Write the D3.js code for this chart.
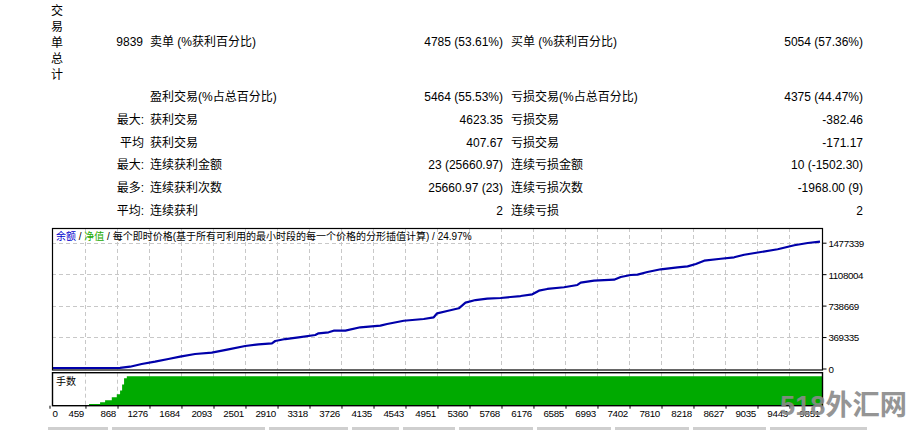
<!DOCTYPE html>
<html>
<head>
<meta charset="utf-8">
<script src="https://cdn.jsdelivr.net/npm/d3@7"></script>
<style>
  html, body { margin: 0; padding: 0; background: #ffffff; }
  svg { display: block; }
  text { font-family: "Liberation Sans", "Noto Sans CJK SC", sans-serif; fill: #000; }
</style>
</head>
<body>
<svg id="chart" width="913" height="430"></svg>
<script>
// ---------------- DATA ----------------
const groupTitle = "交易单总计";
const totalTrades = "9839";
const statPrefix = ["", "", "最大:", "平均", "最大:", "最多:", "平均:"];
const statLabelsLeft = ["卖单 (%获利百分比)", "盈利交易(%占总百分比)", "获利交易", "获利交易", "连续获利金额", "连续获利次数", "连续获利"];
const statValuesLeft = ["4785 (53.61%)", "5464 (55.53%)", "4623.35", "407.67", "23 (25660.97)", "25660.97 (23)", "2"];
const statLabelsRight = ["买单 (%获利百分比)", "亏损交易(%占总百分比)", "亏损交易", "亏损交易", "连续亏损金额", "连续亏损次数", "连续亏损"];
const statValuesRight = ["5054 (57.36%)", "4375 (44.47%)", "-382.46", "-171.17", "10 (-1502.30)", "-1968.00 (9)", "2"];

const legendParts = ["余额", " / ", "净值", " / 每个即时价格(基于所有可利用的最小时段的每一个价格的分形插值计算) / 24.97%"];
const lotsLabel = "手数";
const watermark = "518外汇网";

const xTickValues = [0, 459, 868, 1276, 1684, 2093, 2501, 2910, 3318, 3726, 4135, 4543, 4951, 5360, 5768, 6176, 6585, 6993, 7402, 7810, 8218, 8627, 9035, 9443, 9851];
const yTickValues = [0, 369335, 738669, 1108004, 1477339];

// balance curve: trade number -> balance
const balanceTrades = [41, 906, 1034, 1183, 1353, 1523, 1673, 1864, 2078, 2290, 2504, 2674, 2845, 2887, 3015, 3185, 3398, 3440, 3568, 3632, 3782, 3973, 4229, 4315, 4527, 4782, 4910, 4953, 5081, 5230, 5315, 5443, 5593, 5763, 5890, 6018, 6168, 6252, 6359, 6572, 6743, 6785, 6955, 7211, 7296, 7424, 7510, 7637, 7807, 8021, 8149, 8255, 8361, 8574, 8744, 8872, 9085, 9299, 9511, 9682, 9839];
const balanceValues = [5000, 7000, 21000, 53000, 80000, 112000, 139000, 170000, 186000, 225000, 264000, 284000, 296000, 323000, 346000, 366000, 393000, 413000, 425000, 444000, 445000, 484000, 503000, 523000, 561000, 581000, 601000, 648000, 675000, 707000, 773000, 804000, 820000, 828000, 840000, 851000, 871000, 914000, 934000, 954000, 981000, 1008000, 1031000, 1043000, 1075000, 1098000, 1102000, 1133000, 1165000, 1188000, 1200000, 1227000, 1266000, 1289000, 1306000, 1336000, 1368000, 1400000, 1447000, 1474000, 1490000];

// lot size per trade (step)
const lotTrades = [0, 511, 652, 716, 801, 865, 907, 933, 958, 993, 9839];
const lotValues = [0, 0.3, 0.6, 0.93, 1.44, 1.95, 2.6, 3.6, 4.66, 5.0, 5.0];

// ---------------- DRAW ----------------
const svg = d3.select("#chart");

// ---- statistics table ----
const rowY = [42, 97, 120, 143, 165, 188, 211];
const tbl = svg.append("g").attr("font-size", 12);

tbl.selectAll("text.title").data(groupTitle.split("")).join("text")
  .attr("class", "title")
  .attr("x", 57).attr("y", (d, i) => 11 + i * 16)
  .attr("dy", "0.36em").attr("text-anchor", "middle").text(d => d);

tbl.append("text").attr("x", 143).attr("y", rowY[0]).attr("dy", "0.36em")
  .attr("text-anchor", "end").text(totalTrades);

rowY.forEach((y, i) => {
  if (statPrefix[i]) tbl.append("text").attr("x", 144).attr("y", y).attr("dy", "0.36em")
    .attr("text-anchor", "end").text(statPrefix[i]);
  tbl.append("text").attr("x", 150).attr("y", y).attr("dy", "0.36em").text(statLabelsLeft[i]);
  tbl.append("text").attr("x", 503).attr("y", y).attr("dy", "0.36em")
    .attr("text-anchor", "end").text(statValuesLeft[i]);
  tbl.append("text").attr("x", 511).attr("y", y).attr("dy", "0.36em").text(statLabelsRight[i]);
  tbl.append("text").attr("x", 863).attr("y", y).attr("dy", "0.36em")
    .attr("text-anchor", "end").text(statValuesRight[i]);
});

// ---- chart geometry ----
const L = 52, R = 822, T = 228, B = 369.5;
const LT = 372.7, LB = 405.7;

const x = d3.scaleLinear().domain([0, 9839]).range([49, 820]);
const y = d3.scaleLinear().domain([0, 1477339]).range([368.5, 242.7]);
const yLot = d3.scaleLinear().domain([0, 5.5]).range([LB, LT + 0.6]);

const grid = "#c8c8c8";

// clip paths
const defs = svg.append("defs");
defs.append("clipPath").attr("id", "clipMain").append("rect")
  .attr("x", L).attr("y", T).attr("width", R - L).attr("height", B - T);
defs.append("clipPath").attr("id", "clipLot").append("rect")
  .attr("x", L).attr("y", LT).attr("width", R - L).attr("height", LB - LT);

// grids main
const gMain = svg.append("g");
gMain.selectAll("line.vg").data(xTickValues.filter(d => d > 0 && x(d) < R - 3)).join("line")
  .attr("x1", d => Math.round(x(d)) + 0.5).attr("x2", d => Math.round(x(d)) + 0.5)
  .attr("y1", T).attr("y2", B)
  .attr("stroke", grid).attr("stroke-dasharray", "4,3");
gMain.selectAll("line.hg").data(yTickValues.filter(d => d > 0)).join("line")
  .attr("x1", L).attr("x2", R)
  .attr("y1", d => Math.round(y(d)) + 0.5).attr("y2", d => Math.round(y(d)) + 0.5)
  .attr("stroke", grid).attr("stroke-dasharray", "4,3");

// lot panel grid
const gLot = svg.append("g");
gLot.selectAll("line").data(xTickValues.filter(d => d > 0 && x(d) < R - 3)).join("line")
  .attr("x1", d => Math.round(x(d)) + 0.5).attr("x2", d => Math.round(x(d)) + 0.5)
  .attr("y1", LT).attr("y2", LB)
  .attr("stroke", grid).attr("stroke-dasharray", "4,3");

// lots area
const lotData = lotTrades.map((t, i) => ({ t, v: lotValues[i] }));
svg.append("path").datum(lotData)
  .attr("clip-path", "url(#clipLot)")
  .attr("fill", "#00aa00")
  .attr("d", d3.area().curve(d3.curveStepAfter)
    .x(d => x(d.t)).y0(LB).y1(d => yLot(d.v)));
// extend to frame edge
svg.append("rect").attr("x", x(9839)).attr("y", yLot(lotValues[lotValues.length - 1]))
  .attr("width", R - x(9839)).attr("height", LB - yLot(lotValues[lotValues.length - 1]))
  .attr("fill", "#00aa00");

// balance line
const balData = balanceTrades.map((t, i) => ({ t, v: balanceValues[i] }));
svg.append("path").datum([{ t: 0, v: balanceValues[0] }, ...balData])
  .attr("clip-path", "url(#clipMain)")
  .attr("fill", "none").attr("stroke", "#0000aa").attr("stroke-width", 2.2)
  .attr("stroke-linejoin", "round")
  .attr("d", d3.line().x(d => Math.max(L + 1, x(d.t))).y(d => y(d.v)));

// frames
svg.append("rect").attr("x", L + 0.5).attr("y", T + 0.5).attr("width", R - L).attr("height", B - T)
  .attr("fill", "none").attr("stroke", "#000").attr("stroke-width", 1.2);
svg.append("rect").attr("x", L + 0.5).attr("y", LT).attr("width", R - L).attr("height", LB - LT)
  .attr("fill", "none").attr("stroke", "#000").attr("stroke-width", 1.4);

// legend
const leg = svg.append("text").attr("x", 56).attr("y", 239.5).attr("font-size", 10);
const legColors = ["#0000cc", "#000", "#22aa00", "#000"];
legendParts.forEach((p, i) => leg.append("tspan").style("fill", legColors[i]).text(p));

svg.append("text").attr("x", 56).attr("y", 384.5).attr("font-size", 10).text(lotsLabel);

// y axis (right)
const yAxisG = svg.append("g").attr("transform", `translate(${R + 0.5},0)`)
  .call(d3.axisRight(y).tickValues(yTickValues).tickSize(4).tickSizeOuter(0).tickFormat(d3.format("d")));
yAxisG.select(".domain").remove();
yAxisG.selectAll("text").attr("x", 6).attr("font-size", 9.8).attr("letter-spacing", -0.4)
  .attr("font-family", "Liberation Sans, sans-serif").attr("dy", "0.4em");
yAxisG.selectAll("line").attr("stroke", "#000");

// x axis (bottom)
const xAxisG = svg.append("g").attr("transform", `translate(0,${LB})`)
  .call(d3.axisBottom(x).tickValues(xTickValues).tickSize(3).tickSizeOuter(0).tickFormat(d3.format("d")));
xAxisG.select(".domain").remove();
xAxisG.selectAll("line").attr("stroke", "#000").attr("transform", "translate(0.5,0)");
xAxisG.selectAll("text")
  .attr("font-size", 9.8).attr("letter-spacing", -0.3)
  .attr("font-family", "Liberation Sans, sans-serif")
  .attr("y", 4).attr("dy", "0.71em")
  .attr("text-anchor", d => d === 0 ? "start" : "end")
  .attr("x", d => d === 0 ? L - x(0) : -1.5);

// bottom status strip (decoration)
const strip = [[48, 108], [112, 265], [269, 348], [352, 399], [403, 455], [459, 533], [537, 611], [615, 689], [693, 766], [770, 867]];
svg.selectAll("rect.strip").data(strip).join("rect").attr("class", "strip")
  .attr("x", d => d[0]).attr("y", 427).attr("width", d => d[1] - d[0]).attr("height", 3)
  .attr("fill", "#cfcfcf");

// watermark
svg.append("text").attr("x", 780).attr("y", 415)
  .attr("font-size", 28).attr("font-weight", 700)
  .attr("font-family", "Noto Sans CJK SC, sans-serif")
  .attr("textLength", 127).attr("lengthAdjust", "spacingAndGlyphs")
  .style("fill", "#8a8a8a").style("opacity", 0.9).text(watermark);
</script>
</body>
</html>
